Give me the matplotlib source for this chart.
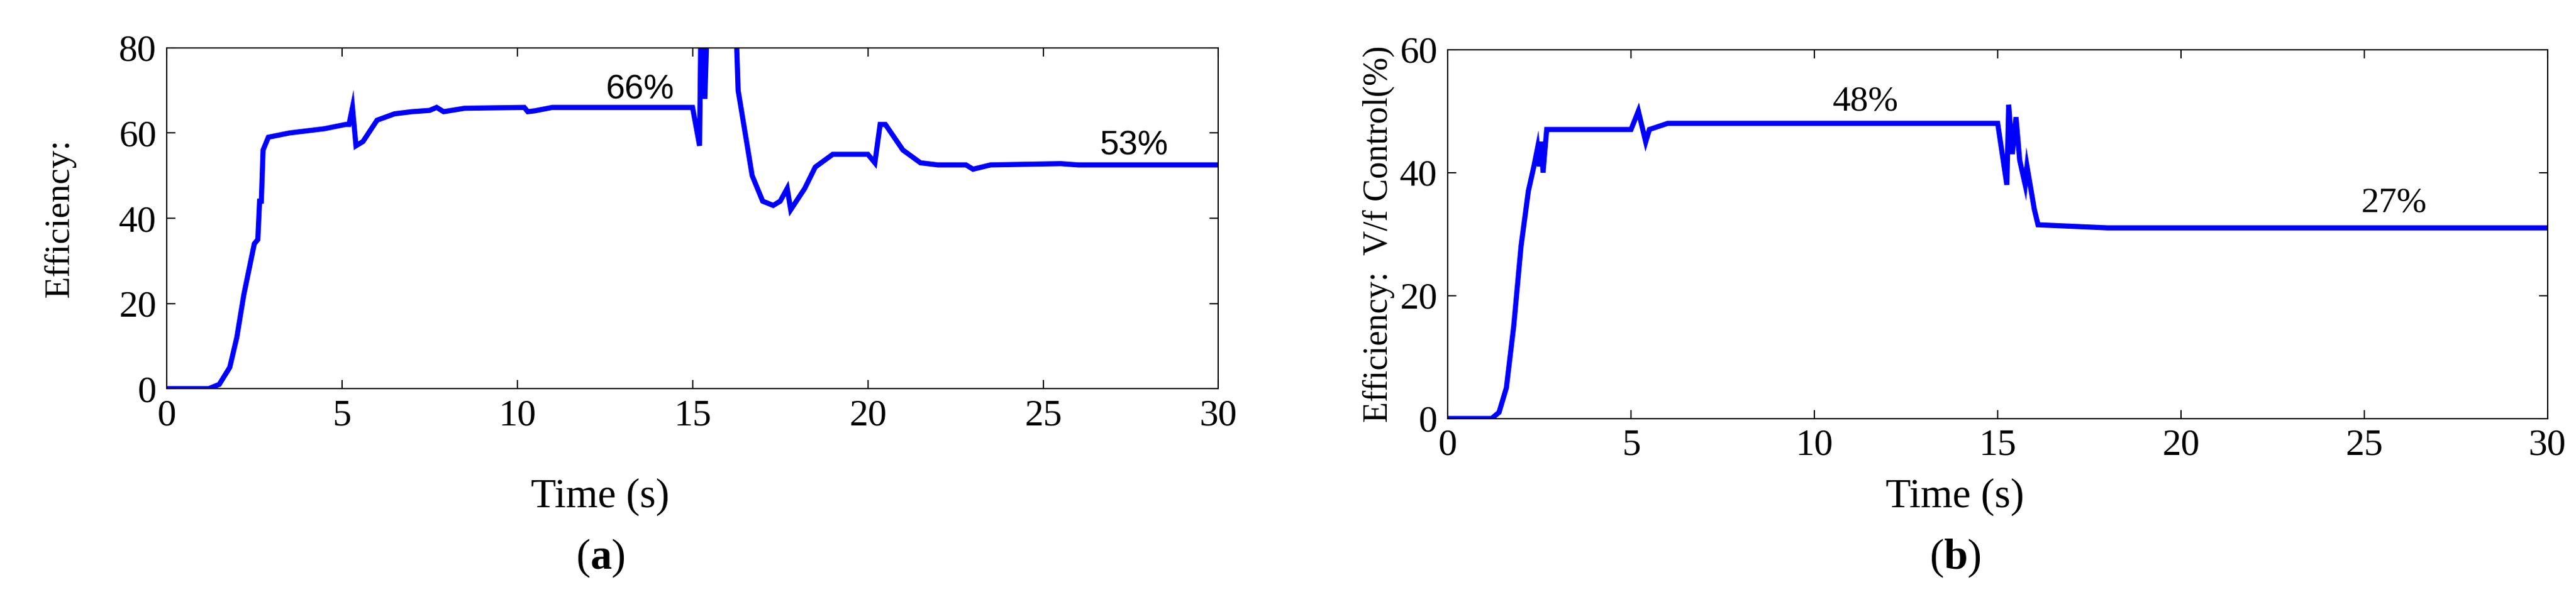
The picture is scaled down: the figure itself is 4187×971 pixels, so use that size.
import matplotlib
matplotlib.use("Agg")
import matplotlib.pyplot as plt

# --- data ---
t_a = [0, 1.2, 1.5, 1.8, 2.0, 2.2, 2.4, 2.5, 2.6, 2.65, 2.7, 2.75, 2.9, 3.5, 4.5, 5.1,
       5.2, 5.3, 5.4, 5.6, 6.0, 6.5, 7.0, 7.5, 7.7, 7.9, 8.5, 10.2, 10.3, 10.5, 11.0,
       15.0, 15.2, 15.25, 15.35, 15.45, 15.55, 16.2, 16.3, 16.5, 16.7, 17.0, 17.3,
       17.5, 17.7, 17.8, 18.2, 18.5, 19.0, 20.0, 20.2, 20.35, 20.5, 21.0, 21.5,
       22.0, 22.8, 23.0, 23.5, 25.5, 26.0, 30.0]
eff_a = [0, 0, 1, 5, 12, 22, 30, 34, 35, 44, 44, 56, 59, 60, 61, 62,
         62, 66, 57, 58, 63, 64.5, 65, 65.3, 66, 65, 65.8, 66, 65, 65.2, 66,
         66, 57, 95, 68, 95, 120, 95, 70, 60, 50, 44, 43,
         44, 47, 42, 47, 52, 55, 55, 53, 62, 62, 56, 53,
         52.5, 52.5, 51.5, 52.5, 52.8, 52.5, 52.5]

t_b = [0, 1.2, 1.4, 1.6, 1.8, 2.0, 2.2, 2.35, 2.45, 2.5, 2.55, 2.6, 2.7, 5.0, 5.2,
       5.4, 5.5, 6.0, 15.0, 15.1, 15.25, 15.3, 15.4, 15.5, 15.6, 15.75, 15.8,
       16.0, 16.1, 18.0, 30.0]
eff_b = [0, 0, 1, 5, 15, 28, 37, 41, 44, 41, 45, 40, 47, 47, 50,
         45, 47, 48, 48, 44, 38, 51, 43, 49, 42, 38, 41,
         34, 31.5, 31, 31]

labels_a = [("66%", 13.5, 70), ("53%", 27.6, 57)]
labels_b = [("48%", 11.4, 51.5), ("27%", 25.8, 35)]

SERIF = "Liberation Serif"
BLUE = "#0000ff"

plt.rcParams["mathtext.fontset"] = "custom"
plt.rcParams["mathtext.bf"] = "Liberation Serif:bold"
plt.rcParams["mathtext.rm"] = "Liberation Serif"

fig = plt.figure(figsize=(41.87, 9.71), dpi=100)
ax1 = fig.add_axes([0.0647, 0.349, 0.4083, 0.571])
ax2 = fig.add_axes([0.562, 0.299, 0.427, 0.618])

for ax, t, y, ymax, yt in [(ax1, t_a, eff_a, 80, [0, 20, 40, 60, 80]),
                           (ax2, t_b, eff_b, 60, [0, 20, 40, 60])]:
    ax.plot(t, y, color=BLUE, linewidth=6, solid_joinstyle="miter")
    ax.set_xlim(0, 30)
    ax.set_ylim(0, ymax)
    ax.set_xticks(range(0, 31, 5))
    ax.set_yticks(yt)
    ax.tick_params(direction="in", length=10, width=1.5, labelsize=44,
                   top=True, right=True, pad=12)
    for lbl in ax.get_xticklabels() + ax.get_yticklabels():
        lbl.set_fontfamily(SERIF)
    for s in ax.spines.values():
        s.set_linewidth(1.5)

for txt, x, y in labels_a:
    ax1.text(x, y, txt, fontsize=40, family="Liberation Sans", ha="center", va="center")
for txt, x, y in labels_b:
    ax2.text(x, y, txt, fontsize=42, family=SERIF, ha="center", va="center")

ax1.set_ylabel("Efficiency:", fontsize=42, family=SERIF, labelpad=50)
ax2.set_ylabel("Efficiency:  V/f Control(%)", fontsize=40, family=SERIF, labelpad=6)

fig.text(0.233, 0.168, "Time (s)", fontsize=48, family=SERIF, ha="center", va="center")
fig.text(0.759, 0.168, "Time (s)", fontsize=48, family=SERIF, ha="center", va="center")
fig.text(0.233, 0.065, r"($\mathbf{a}$)", fontsize=50, family=SERIF, ha="center", va="center")
fig.text(0.759, 0.065, r"($\mathbf{b}$)", fontsize=50, family=SERIF, ha="center", va="center")

fig.savefig("out.png", dpi=100)
